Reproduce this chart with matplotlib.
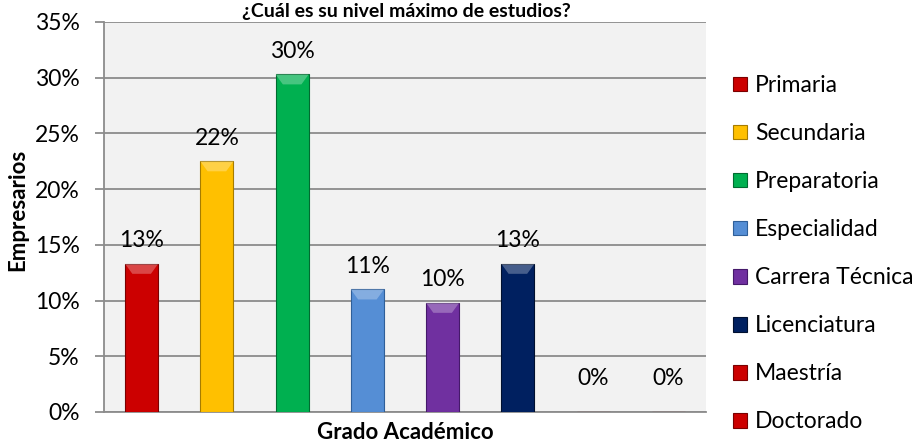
import matplotlib
matplotlib.use("Agg")
import matplotlib.pyplot as plt
from matplotlib.patches import Patch, Polygon
from matplotlib.ticker import FuncFormatter

categories = ["Primaria", "Secundaria", "Preparatoria", "Especialidad",
              "Carrera Técnica", "Licenciatura", "Maestría", "Doctorado"]
values = [13.3, 22.5, 30.3, 11.0, 9.8, 13.3, 0.0, 0.0]
labels = ["13%", "22%", "30%", "11%", "10%", "13%", "0%", "0%"]
colors = ["#CC0000", "#FFC000", "#00B050", "#558ED5", "#7030A0", "#002060",
          "#CC0000", "#CC0000"]
edges = ["#7A0000", "#A67C00", "#006B30", "#2F5F99", "#45196A", "#00102F",
         "#7A0000", "#7A0000"]
yticks = [0, 5, 10, 15, 20, 25, 30, 35]

plt.rcParams['font.family'] = ['Lato', 'DejaVu Sans']
FS = 16.5

fig = plt.figure(figsize=(9.24, 4.43), dpi=100)
ax = fig.add_axes([104/924, 1-412/443, (706-104)/924, (412-22)/443])
ax.set_facecolor("#F2F2F2")

x = list(range(len(categories)))
bars = ax.bar(x, values, width=0.44, color=colors, edgecolor=edges,
              linewidth=0.8, zorder=3)

# bevel highlight on bar tops
for b in bars:
    h = b.get_height()
    if h <= 0:
        continue
    x0 = b.get_x(); w = b.get_width()
    bev = 0.9
    tri = Polygon([[x0, h], [x0 + w, h], [x0 + w*0.78, h - bev], [x0 + w*0.22, h - bev]],
                  closed=True, facecolor="white", alpha=0.28, edgecolor="none", zorder=4)
    ax.add_patch(tri)

for xi, v, lab in zip(x, values, labels):
    ax.annotate(lab, (xi, v), xytext=(0, 12 if v > 0 else 19.5), textcoords="offset points",
                ha="center", va="baseline", fontsize=FS, color="#000000")

ax.set_xlim(-0.5, len(categories) - 0.5)
ax.set_ylim(0, 35)
ax.set_yticks(yticks)
ax.yaxis.set_major_formatter(FuncFormatter(lambda v, p: f"{int(v)}%"))
ax.set_xticks([])
ax.grid(axis="y", color="#8C8C8C", linewidth=1.3, zorder=0)
ax.set_axisbelow(True)
for s in ["top", "right"]:
    ax.spines[s].set_visible(False)
for s in ["left", "bottom"]:
    ax.spines[s].set_color("#8C8C8C")
    ax.spines[s].set_linewidth(1.3)
ax.tick_params(axis="y", length=6.5, width=1.3, color="#8C8C8C", labelsize=FS, pad=11)

ax.set_ylabel("Empresarios", fontsize=16, fontweight="bold")
ax.yaxis.set_label_coords(-0.125, 0.518)
ax.set_xlabel("Grado Académico", fontsize=16, fontweight="bold")
ax.xaxis.label.set_va("baseline")
ax.xaxis.set_label_coords(0.5, -(439 - 412) / 390)

fig.text(0.44, 1 - 17/443, "¿Cuál es su nivel máximo de estudios?", ha="center",
         va="baseline", fontsize=14, fontweight="bold")

handles = [Patch(facecolor=c, edgecolor=e, linewidth=0.8) for c, e in zip(colors, edges)]
leg = fig.legend(handles, categories, loc="upper left", bbox_to_anchor=(733/924, 1 - 75/443),
                 frameon=False, fontsize=FS, labelspacing=1.18, handlelength=0.62,
                 handleheight=0.62, handletextpad=0.35, borderaxespad=0, borderpad=0)

fig.savefig("out.png", dpi=100)
